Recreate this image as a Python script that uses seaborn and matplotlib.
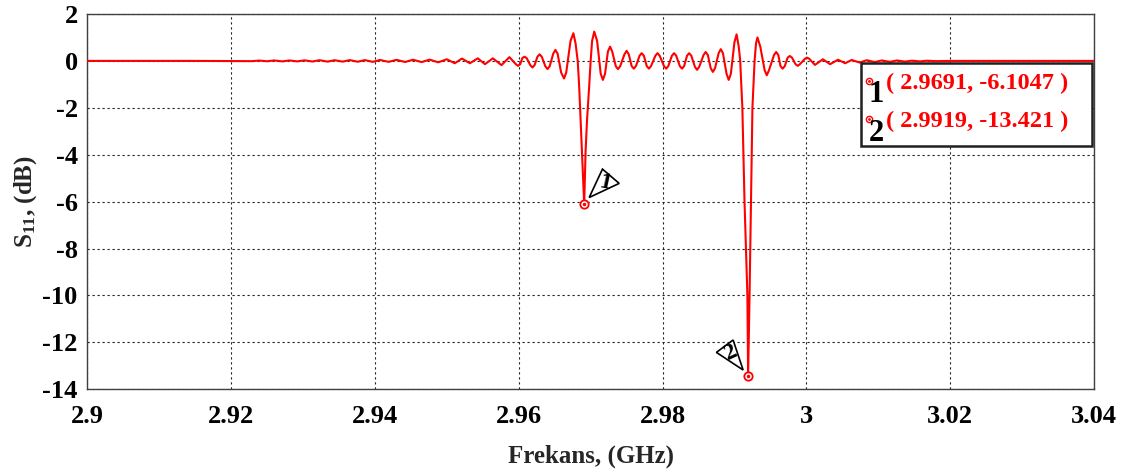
import matplotlib
matplotlib.use("Agg")
import matplotlib.pyplot as plt
import matplotlib.transforms as mtransforms
from matplotlib.patches import Polygon, Rectangle
import seaborn as sns
import pandas as pd

# ---------------- data ----------------
freq_ghz = [
    2.9000, 2.9150, 2.9229, 2.9239, 2.9250, 2.9260, 2.9271, 2.9281, 2.9292, 2.9302,
    2.9313, 2.9323, 2.9334, 2.9344, 2.9355, 2.9365, 2.9376, 2.9386, 2.9397, 2.9407,
    2.9419, 2.9430, 2.9442, 2.9453, 2.9465, 2.9476, 2.9488, 2.9500, 2.9511, 2.9521,
    2.9532, 2.9543, 2.9553, 2.9564, 2.9576, 2.9587, 2.9596, 2.9599, 2.9602, 2.9605,
    2.9608, 2.9611, 2.9616, 2.9619, 2.9622, 2.9626, 2.9629, 2.9632, 2.9637, 2.9640,
    2.9643, 2.9648, 2.9651, 2.9654, 2.9659, 2.9663, 2.9666, 2.9672, 2.9676, 2.9679,
    2.9682, 2.9684, 2.9686, 2.9688, 2.9690, 2.9691, 2.9692, 2.9693, 2.9695, 2.9698,
    2.9700, 2.9702, 2.9705, 2.9709, 2.9714, 2.9717, 2.9720, 2.9724, 2.9727, 2.9730,
    2.9735, 2.9738, 2.9741, 2.9747, 2.9750, 2.9753, 2.9757, 2.9760, 2.9763, 2.9768,
    2.9771, 2.9774, 2.9778, 2.9781, 2.9784, 2.9790, 2.9793, 2.9796, 2.9802, 2.9805,
    2.9808, 2.9813, 2.9816, 2.9819, 2.9824, 2.9827, 2.9830, 2.9834, 2.9837, 2.9840,
    2.9845, 2.9848, 2.9851, 2.9857, 2.9860, 2.9863, 2.9867, 2.9870, 2.9873, 2.9878,
    2.9881, 2.9884, 2.9889, 2.9892, 2.9895, 2.9900, 2.9903, 2.9906, 2.9908, 2.9911,
    2.9914, 2.9918, 2.9919, 2.9921, 2.9923, 2.9925, 2.9928, 2.9930, 2.9932, 2.9936,
    2.9942, 2.9945, 2.9948, 2.9955, 2.9958, 2.9961, 2.9964, 2.9967, 2.9970, 2.9974,
    2.9977, 2.9980, 2.9985, 2.9988, 2.9991, 2.9998, 3.0001, 3.0004, 3.0012, 3.0023,
    3.0033, 3.0044, 3.0054, 3.0063, 3.0074, 3.0084, 3.0095, 3.0105, 3.0116, 3.0126,
    3.0137, 3.0147, 3.0158, 3.0168, 3.0179, 3.0200, 3.0400,
]
s11_db = [
    0.00, 0.00, -0.01, 0.015, -0.015, 0.02, -0.02, 0.02, -0.02, 0.025,
    -0.025, 0.03, -0.03, 0.03, -0.03, 0.035, -0.035, 0.035, -0.04, 0.04,
    -0.04, 0.045, -0.045, 0.05, -0.05, 0.055, -0.06, 0.07, -0.10, 0.10,
    -0.10, 0.11, -0.14, 0.11, -0.18, 0.16, -0.14, -0.21, -0.14, 0.12,
    0.18, 0.12, -0.18, -0.28, -0.18, 0.18, 0.28, 0.18, -0.23, -0.35,
    -0.23, 0.31, 0.47, 0.31, -0.50, -0.75, -0.50, 0.85, 1.18, 0.75,
    0.00, -1.06, -2.50, -3.83, -5.30, -6.1047, -5.00, -3.83, -2.50, -1.06,
    0.00, 0.85, 1.25, 0.85, -0.55, -0.81, -0.55, 0.40, 0.61, 0.40,
    -0.23, -0.35, -0.23, 0.28, 0.43, 0.28, -0.22, -0.33, -0.22, 0.22,
    0.33, 0.22, -0.22, -0.33, -0.22, 0.22, 0.33, 0.22, -0.22, -0.33,
    -0.22, 0.22, 0.33, 0.22, -0.22, -0.33, -0.22, 0.22, 0.33, 0.22,
    -0.25, -0.38, -0.25, 0.25, 0.38, 0.25, -0.31, -0.47, -0.31, 0.33,
    0.50, 0.33, -0.55, -0.81, -0.55, 0.80, 1.13, 0.60, 0.00, -2.00,
    -6.00, -10.00, -13.421, -10.00, -6.00, -2.00, 0.00, 0.75, 1.00, 0.60,
    -0.40, -0.61, -0.40, 0.25, 0.38, 0.25, -0.22, -0.33, -0.22, 0.14,
    0.21, 0.14, -0.14, -0.21, -0.14, 0.09, 0.14, 0.09, -0.17, 0.07,
    -0.14, 0.05, -0.10, 0.04, -0.07, 0.03, -0.05, 0.02, -0.04, 0.02,
    -0.03, 0.01, -0.02, 0.01, -0.01, 0.00, 0.00,
]
marker_ids = ["1", "2"]
marker_freq = [2.9691, 2.9919]
marker_db = [-6.1047, -13.421]
x_ticks = [2.90, 2.92, 2.94, 2.96, 2.98, 3.00, 3.02, 3.04]
x_tick_labels = ["2.9", "2.92", "2.94", "2.96", "2.98", "3", "3.02", "3.04"]
y_ticks = [-14, -12, -10, -8, -6, -4, -2, 0, 2]
y_tick_labels = ["-14", "-12", "-10", "-8", "-6", "-4", "-2", "0", "2"]

# ---------------- style ----------------
sns.set_theme(style="white")
plt.rcParams["font.family"] = ["Liberation Serif", "DejaVu Serif"]
plt.rcParams["font.weight"] = "bold"
plt.rcParams["axes.unicode_minus"] = False
plt.rcParams["mathtext.fontset"] = "custom"
plt.rcParams["mathtext.rm"] = "Liberation Serif:bold"
plt.rcParams["mathtext.it"] = "Liberation Serif:bold"
plt.rcParams["mathtext.bf"] = "Liberation Serif:bold"
plt.rcParams["mathtext.default"] = "rm"

DPI = 100
fig = plt.figure(figsize=(11.3, 4.73), dpi=DPI)
ax = fig.add_axes([0.0773, 0.1770, 0.8908, 0.7934])

df = pd.DataFrame({"f": freq_ghz, "s11": s11_db})
sns.lineplot(data=df, x="f", y="s11", color="#ff0000", linewidth=1.5,
             estimator=None, sort=False, ax=ax, zorder=3)

# markers on the curve
mk = pd.DataFrame({"f": marker_freq, "s11": marker_db})
ax.plot(mk["f"], mk["s11"], linestyle="none", marker="o", ms=6,
        mfc="white", mec="#ff0000", mew=1.3, zorder=5)
ax.plot(mk["f"], mk["s11"], linestyle="none", marker="o", ms=1.5,
        mfc="#ff0000", mec="#ff0000", zorder=6)

ax.set_xlim(2.90, 3.04)
ax.set_ylim(-14, 2)
ax.set_xticks(x_ticks)
ax.set_xticklabels(x_tick_labels)
ax.set_yticks(y_ticks)
ax.set_yticklabels(y_tick_labels)

ax.grid(True, color="#222222", linestyle=(0, (2, 2.5)), linewidth=0.8)
for sp in ax.spines.values():
    sp.set_visible(True)
    sp.set_color("#404040")
    sp.set_linewidth(1.0)
ax.tick_params(axis="both", which="major", direction="out", length=4,
               width=1, color="#404040", labelsize=19, colors="black")
ax.tick_params(axis="x", pad=7)
ax.tick_params(axis="y", pad=3)
for lab in ax.get_xticklabels() + ax.get_yticklabels():
    lab.set_fontweight("bold")

ax.set_xlabel("Frekans, (GHz)", fontsize=18, fontweight="bold")
ax.set_ylabel(r"S$_{11}$, (dB)", fontsize=18, fontweight="bold")
ax.yaxis.set_label_coords(-0.048, 0.5)
ax.xaxis.set_label_coords(0.5, -0.148)

# triangular flags next to markers (vertex offsets in pixels from marker)
flag_shapes = {
    "1": ([(5, 6.6), (18.3, 35), (35, 20.7)], (20.5, 21.5), -12),
    "2": ([(-31.7, 23.3), (-15, 35.7), (-5, 5.7)], (-17.5, 23.5), 25),
}
for mid, f, v in zip(marker_ids, marker_freq, marker_db):
    verts, tpos, rot = flag_shapes[mid]
    tr = mtransforms.Affine2D() + mtransforms.ScaledTranslation(f, v, ax.transData)
    poly = Polygon(verts, closed=True, facecolor="white", edgecolor="black",
                   linewidth=1.2, transform=tr, zorder=6, clip_on=False)
    ax.add_patch(poly)
    ax.text(tpos[0], tpos[1], mid, transform=tr, ha="center", va="center",
            fontsize=17, fontweight="bold", color="black", rotation=rot,
            zorder=7)

# marker readout box
box = Rectangle((0.769, 0.648), 0.229, 0.222, transform=ax.transAxes,
                facecolor="white", edgecolor="#202020", linewidth=1.8,
                zorder=8, clip_on=False)
ax.add_patch(box)
rows_y = [(0.8215, 0.7842, 0.8153), (0.7202, 0.6821, 0.7130)]
for mid, f, v, (cy, ny, ty) in zip(marker_ids, marker_freq, marker_db, rows_y):
    ax.plot([0.7768], [cy], transform=ax.transAxes, marker="o", ms=4.5,
            mfc="white", mec="#ff0000", mew=1.0, linestyle="none", zorder=9,
            clip_on=False)
    ax.plot([0.7768], [cy], transform=ax.transAxes, marker="o", ms=1.0,
            mfc="#ff0000", mec="#ff0000", linestyle="none", zorder=10,
            clip_on=False)
    ax.text(0.7840, ny, mid, transform=ax.transAxes, ha="center", va="center",
            fontsize=22, fontweight="bold", color="black", zorder=9)
    ax.text(0.7933, ty, f"( {f:.4f}, {v:.5g} )", transform=ax.transAxes,
            ha="left", va="center", fontsize=17.5, fontweight="bold",
            color="#ff0000", zorder=9)

fig.savefig("out.png", dpi=DPI)
